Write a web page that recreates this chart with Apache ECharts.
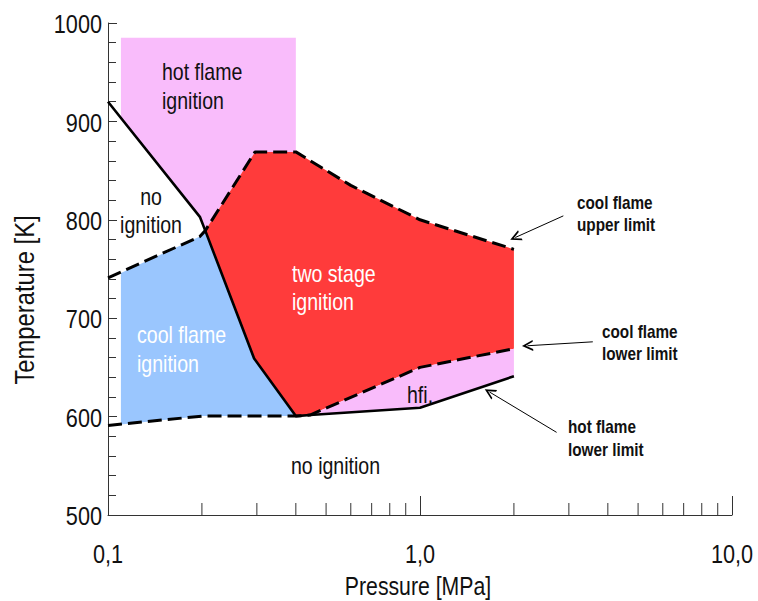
<!DOCTYPE html>
<html>
<head>
<meta charset="utf-8">
<script src="https://cdn.jsdelivr.net/npm/echarts@6/dist/echarts.min.js"></script>
<style>
html,body{margin:0;padding:0;background:#fff;}
#chart{width:758px;height:601px;}
</style>
</head>
<body>
<div id="chart"></div>
<script>
// ---- axis ticks ----
const pressureTicks = [0.1, 1, 10];
const pressureTickLabels = ['0,1', '1,0', '10,0'];
const pressureMinorTicks = [0.2, 0.3, 0.4, 0.5, 0.6, 0.7, 0.8, 0.9, 2, 3, 4, 5, 6, 7, 8, 9];
const temperatureTicks = [500, 600, 700, 800, 900, 1000];
const temperatureTickLabels = ['500', '600', '700', '800', '900', '1000'];

// ---- regions [pressure MPa, temperature K] ----
const hotFlameRegion = [[0.11, 985], [0.4, 985], [0.4, 869], [0.296, 869], [0.205, 789], [0.197, 803], [0.11, 904]];
const coolFlameRegion = [[0.11, 746], [0.197, 783], [0.205, 789], [0.294, 659], [0.4, 600.5], [0.2, 600.5], [0.11, 592]];
const twoStageRegion = [[0.205, 789], [0.296, 869], [0.4, 869], [0.6, 835], [1.0, 800], [2.0, 770], [2.0, 669], [1.0, 650], [0.444, 601.6], [0.4, 600.5], [0.294, 659]];
const hfiRegion = [[0.4, 600.5], [0.444, 601.6], [1.0, 650], [2.0, 669], [2.0, 641], [1.0, 609]];

// ---- boundary lines ----
const hotFlameBoundary = [[0.1, 920], [0.197, 803], [0.205, 789], [0.294, 659], [0.4, 600.5], [0.444, 601.6], [1.0, 609], [2.0, 641]];
const coolFlameUpperLimit = [[0.1, 741], [0.197, 783], [0.205, 789], [0.296, 869], [0.4, 869], [0.6, 835], [1.0, 800], [2.0, 770]];
const coolFlameLowerLimit = [[0.1, 591], [0.2, 600.5], [0.4, 600.5], [0.444, 601.6], [1.0, 650], [2.0, 669]];

// ---- annotation arrows [from, to] ----
const arrows = [
  [[2.88, 804], [2.02, 782]],
  [[3.58, 676], [2.21, 672]],
  [[2.74, 584], [1.67, 625]]
];

const FONT = '"Liberation Sans", Arial, sans-serif';
const NARROW = 0.85;

const regions = [
  { pts: hotFlameRegion, color: '#F9BCFB' },
  { pts: coolFlameRegion, color: '#9AC6FE' },
  { pts: twoStageRegion, color: '#FF3B3B' },
  { pts: hfiRegion, color: '#F9BCFB' }
];

const chart = echarts.init(document.getElementById('chart'), null, { renderer: 'svg' });

function txt(text, x, y, opts) {
  const st = Object.assign({
    text: text,
    font: '23px ' + FONT,
    fill: '#111',
    textAlign: 'left',
    textVerticalAlign: 'top',
    lineHeight: 29
  }, opts || {});
  st.align = st.textAlign;
  st.verticalAlign = st.textVerticalAlign;
  return { type: 'text', x: x, y: y, scaleX: NARROW, silent: true, z: 100, style: st };
}

const option = {
  animation: false,
  backgroundColor: '#fff',
  grid: { left: 108, right: 26, top: 23, bottom: 86, containLabel: false, outerBoundsMode: 'none' },
  xAxis: {
    type: 'log',
    logBase: 10,
    min: pressureTicks[0],
    max: pressureTicks[pressureTicks.length - 1],
    axisLine: { show: true, lineStyle: { color: '#333', width: 1 } },
    axisTick: { show: true, inside: true, length: 19, lineStyle: { color: '#333', width: 1 } },
    minorTick: { show: false },
    splitLine: { show: false },
    axisLabel: { show: false }
  },
  yAxis: {
    type: 'value',
    min: temperatureTicks[0],
    max: temperatureTicks[temperatureTicks.length - 1],
    interval: 100,
    axisLine: { show: true, lineStyle: { color: '#333', width: 1 } },
    axisTick: { show: true, inside: true, length: 9, lineStyle: { color: '#333', width: 1 } },
    minorTick: { show: true, splitNumber: 5, length: 8, lineStyle: { color: '#333', width: 1 } },
    splitLine: { show: false },
    axisLabel: { show: false }
  },
  series: [
    {
      type: 'custom',
      name: 'regions',
      coordinateSystem: 'cartesian2d',
      clip: false,
      silent: true,
      z: 1,
      data: regions.map(r => r.pts[0]),
      encode: { x: 0, y: 1 },
      renderItem: function (params, api) {
        const r = regions[params.dataIndex];
        return {
          type: 'polygon',
          shape: { points: r.pts.map(p => api.coord(p)) },
          style: { fill: r.color, stroke: null }
        };
      }
    },
    {
      type: 'custom',
      name: 'pressure minor ticks',
      coordinateSystem: 'cartesian2d',
      clip: false,
      silent: true,
      z: 2,
      data: pressureMinorTicks.map(v => [v, temperatureTicks[0]]),
      encode: { x: 0, y: 1 },
      renderItem: function (params, api) {
        const p = api.coord([api.value(0), api.value(1)]);
        return {
          type: 'line',
          shape: { x1: p[0], y1: p[1], x2: p[0], y2: p[1] - 12 },
          style: { stroke: '#333', lineWidth: 1 }
        };
      }
    },
    {
      type: 'custom',
      name: 'pressure tick labels',
      coordinateSystem: 'cartesian2d',
      clip: false,
      silent: true,
      z: 10,
      data: pressureTicks.map(v => [v, temperatureTicks[0]]),
      encode: { x: 0, y: 1 },
      renderItem: function (params, api) {
        const p = api.coord([api.value(0), api.value(1)]);
        return {
          type: 'text', x: p[0], y: p[1] + 39.5, scaleX: NARROW,
          style: {
            text: pressureTickLabels[params.dataIndex], font: '25.5px ' + FONT, fill: '#111',
            textAlign: 'center', align: 'center', textVerticalAlign: 'middle', verticalAlign: 'middle'
          }
        };
      }
    },
    {
      type: 'custom',
      name: 'temperature tick labels',
      coordinateSystem: 'cartesian2d',
      clip: false,
      silent: true,
      z: 10,
      data: temperatureTicks.map(v => [pressureTicks[0], v]),
      encode: { x: 0, y: 1 },
      renderItem: function (params, api) {
        const p = api.coord([api.value(0), api.value(1)]);
        return {
          type: 'text', x: p[0] - 6, y: p[1] + 1.5, scaleX: NARROW,
          style: {
            text: temperatureTickLabels[params.dataIndex], font: '25.5px ' + FONT, fill: '#111',
            textAlign: 'right', align: 'right', textVerticalAlign: 'middle', verticalAlign: 'middle'
          }
        };
      }
    },
    {
      type: 'line',
      name: 'hot flame boundary',
      data: hotFlameBoundary,
      showSymbol: false,
      symbol: 'none',
      silent: true,
      z: 5,
      lineStyle: { color: '#000', width: 2.6, type: 'solid', join: 'round' },
      markLine: {
        silent: true,
        symbol: ['none', 'path://M5,0L10,12L8.3,12L5,4.2L1.7,12L0,12Z'],
        symbolSize: 11,
        label: { show: false },
        lineStyle: { color: '#000', width: 1, type: 'solid' },
        data: arrows.map(a => [{ coord: a[0] }, { coord: a[1] }])
      }
    },
    {
      type: 'line',
      name: 'cool flame upper limit',
      data: coolFlameUpperLimit,
      showSymbol: false,
      symbol: 'none',
      silent: true,
      z: 6,
      lineStyle: { color: '#000', width: 3, type: [14, 6] }
    },
    {
      type: 'line',
      name: 'cool flame lower limit',
      data: coolFlameLowerLimit,
      showSymbol: false,
      symbol: 'none',
      silent: true,
      z: 6,
      lineStyle: { color: '#000', width: 3, type: [14, 6] }
    }
  ],
  graphic: [
    Object.assign(txt('Temperature [K]', 24.6, 300, { font: '28px ' + FONT, textAlign: 'center', textVerticalAlign: 'middle' }), { rotation: Math.PI / 2 }),
    txt('Pressure [MPa]', 418, 586.5, { font: '25px ' + FONT, textAlign: 'center', textVerticalAlign: 'middle', lineHeight: 25 }),
    txt('hot flame\nignition', 162, 58),
    txt('no\nignition', 151, 183, { textAlign: 'center', lineHeight: 28 }),
    txt('two stage\nignition', 292, 260, { fill: '#fff', lineHeight: 28.5 }),
    txt('cool flame\nignition', 137, 321, { fill: '#fff' }),
    txt('hfi.', 407, 381),
    txt('no ignition', 291, 452),
    txt('cool flame\nupper limit', 577, 192, { font: 'bold 18px ' + FONT, lineHeight: 22 }),
    txt('cool flame\nlower limit', 602, 321, { font: 'bold 18px ' + FONT, lineHeight: 22 }),
    txt('hot flame\nlower limit', 568, 416, { font: 'bold 18px ' + FONT, lineHeight: 22.7 })
  ]
};

chart.setOption(option);
</script>
</body>
</html>
